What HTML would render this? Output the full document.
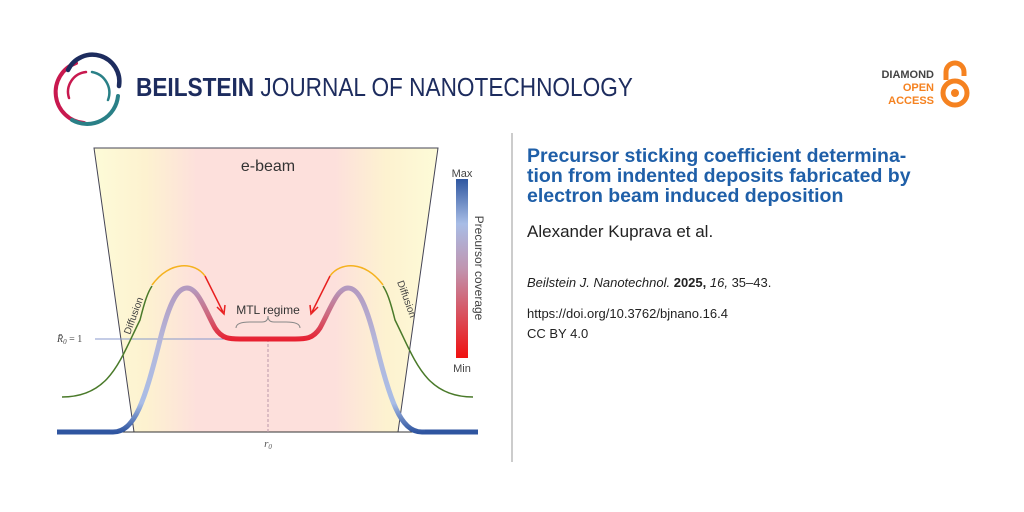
<!DOCTYPE html>
<html><head><meta charset="utf-8"><style>
body{margin:0;width:1024px;height:512px;background:#fff;overflow:hidden;position:relative;font-family:"Liberation Sans",sans-serif}
.a{position:absolute;white-space:nowrap}
</style></head><body>
<svg class="a" style="left:0;top:0" width="1024" height="512">
<defs>
<linearGradient id="bg" x1="0" x2="1"><stop offset="0" stop-color="#fdfbd8"/><stop offset="0.15" stop-color="#fdf2d0"/><stop offset="0.3" stop-color="#fde0dc"/><stop offset="0.7" stop-color="#fde0dc"/><stop offset="0.85" stop-color="#fdf2d0"/><stop offset="1" stop-color="#fdfbd8"/></linearGradient>
<linearGradient id="cb" x1="0" y1="0" x2="0" y2="1"><stop offset="0" stop-color="#2f57a0"/><stop offset="0.25" stop-color="#a8bde6"/><stop offset="0.5" stop-color="#c095b0"/><stop offset="1" stop-color="#f01010"/></linearGradient>
<linearGradient id="outer" gradientUnits="userSpaceOnUse" x1="0" y1="288" x2="0" y2="432"><stop offset="0" stop-color="#b39ac0"/><stop offset="0.4" stop-color="#b4b8dc"/><stop offset="0.8" stop-color="#a9bde6"/><stop offset="1" stop-color="#2f55a0"/></linearGradient>
<linearGradient id="inner" gradientUnits="userSpaceOnUse" x1="0" y1="288" x2="0" y2="340"><stop offset="0" stop-color="#b39ac0"/><stop offset="0.5" stop-color="#cc6a80"/><stop offset="1" stop-color="#e82030"/></linearGradient>
</defs>
<!-- logo -->
<g fill="none" stroke-linecap="round">
<path d="M76 63 A31 31 0 0 0 84 123" stroke="#c8194f" stroke-width="4"/>
<path d="M68 70 A27 27 0 0 1 119 86" stroke="#1d2c5e" stroke-width="4.5"/>
<path d="M118 96 A31 31 0 0 1 72 120" stroke="#2a8087" stroke-width="4"/>
<path d="M69 98 A20 20 0 0 1 86 72" stroke="#c8194f" stroke-width="2.5"/>
<path d="M92 72 A21 21 0 0 1 108 100" stroke="#2a8087" stroke-width="2.5"/>
</g>
<!-- open access lock -->
<path d="M946 80 L946 72 A9 9 0 0 1 964 72 L964 76" fill="none" stroke="#f58220" stroke-width="5"/>
<circle cx="955" cy="93" r="12" fill="none" stroke="#f58220" stroke-width="5"/>
<circle cx="955" cy="93" r="4" fill="#f58220"/>
<!-- chart -->
<polygon points="94,148 438,148 398,432 134,432" fill="url(#bg)" stroke="#445" stroke-width="1"/>
<line x1="57" y1="432" x2="478" y2="432" stroke="#333" stroke-width="1"/>
<line x1="95" y1="339" x2="268" y2="339" stroke="#8899cc" stroke-width="1"/>
<line x1="268" y1="339" x2="268" y2="432" stroke="#b9a" stroke-width="1" stroke-dasharray="3,2"/>
<path d="M62 397 C110 397 120 360 140 320 C145 300 148 292 152 286" fill="none" stroke="#4a7a2a" stroke-width="1.5"/>
<path d="M473 397 C425 397 415 360 395 320 C390 300 387 292 383 286" fill="none" stroke="#4a7a2a" stroke-width="1.5"/>
<path d="M152 285 C170 260 195 262 205 276" fill="none" stroke="#f5b21e" stroke-width="1.5"/>
<path d="M383 285 C365 260 340 262 330 276" fill="none" stroke="#f5b21e" stroke-width="1.5"/>
<path d="M205 276 L223 312 M217 307 L224 314 L225 305" fill="none" stroke="#e82020" stroke-width="1.5"/>
<path d="M330 276 L312 312 M318 307 L311 314 L310 305" fill="none" stroke="#e82020" stroke-width="1.5"/>
<g fill="none" stroke-width="5">
<path d="M57 432 L113 432 C135 432 145 400 160 340 C170 300 178 288 187 288" stroke="url(#outer)"/>
<path d="M478 432 L422 432 C400 432 390 400 375 340 C365 300 357 288 348 288" stroke="url(#outer)"/>
<path d="M187 288 C198 288 205 310 215 328 C222 339 230 339 240 339 L295 339 C305 339 313 339 320 328 C330 310 337 288 348 288" stroke="url(#inner)"/>
<path d="M57 432 L110 432 M425 432 L478 432" stroke="#2f55a0"/>
</g>
<path d="M236 328 Q236 322 250 322 L262 322 Q268 322 268 316 Q268 322 274 322 L286 322 Q300 322 300 328" fill="none" stroke="#888" stroke-width="1"/>
<rect x="456" y="179" width="12" height="179" fill="url(#cb)"/>
<line x1="512" y1="133" x2="512" y2="462" stroke="#999" stroke-width="1"/>
<text x="268" y="171" font-size="16" fill="#333" text-anchor="middle">e-beam</text>
<text x="268" y="314" font-size="12" fill="#333" text-anchor="middle">MTL regime</text>
<text x="462" y="177" font-size="11" fill="#444" text-anchor="middle">Max</text>
<text x="462" y="372" font-size="11" fill="#444" text-anchor="middle">Min</text>
<text transform="translate(475,268) rotate(90)" font-size="12" fill="#444" text-anchor="middle">Precursor coverage</text>
<text transform="translate(130,335) rotate(-70)" font-size="10" fill="#444">Diffusion</text>
<text transform="translate(397,282) rotate(70)" font-size="10" fill="#444">Diffusion</text>
<text x="57" y="342" font-size="10" fill="#444" font-family="Liberation Serif" font-style="italic">R̄<tspan font-size="7" dy="2">0</tspan><tspan dy="-2" font-style="normal"> = 1</tspan></text>
<text x="268" y="447" font-size="11" fill="#555" text-anchor="middle" font-family="Liberation Serif" font-style="italic">r<tspan font-size="7" dy="2">0</tspan></text>
</svg>
<div class="a" style="left:136px;top:72px;font-size:26px;color:#1d2c5e;transform:scaleX(0.87);transform-origin:0 0"><b>BEILSTEIN</b> <span>JOURNAL OF NANOTECHNOLOGY</span></div>
<div class="a" style="left:870px;top:69px;width:64px;text-align:right;font-size:11px;font-weight:bold;line-height:13px"><span style="color:#444">DIAMOND</span><br><span style="color:#f58220">OPEN<br>ACCESS</span></div>
<div class="a" style="left:527px;top:146px;font-size:19.5px;font-weight:bold;color:#1f5fa8;line-height:20px">Precursor sticking coefficient determina-<br>tion from indented deposits fabricated by<br>electron beam induced deposition</div>
<div class="a" style="left:527px;top:222px;font-size:17px;color:#222">Alexander Kuprava et al.</div>
<div class="a" style="left:527px;top:275px;font-size:13px;color:#222"><i>Beilstein J. Nanotechnol.</i> <b>2025,</b> <i>16,</i> 35–43.</div>
<div class="a" style="left:527px;top:304px;font-size:13px;color:#222;line-height:20px">https://doi.org/10.3762/bjnano.16.4<br>CC BY 4.0</div>
</body></html>
